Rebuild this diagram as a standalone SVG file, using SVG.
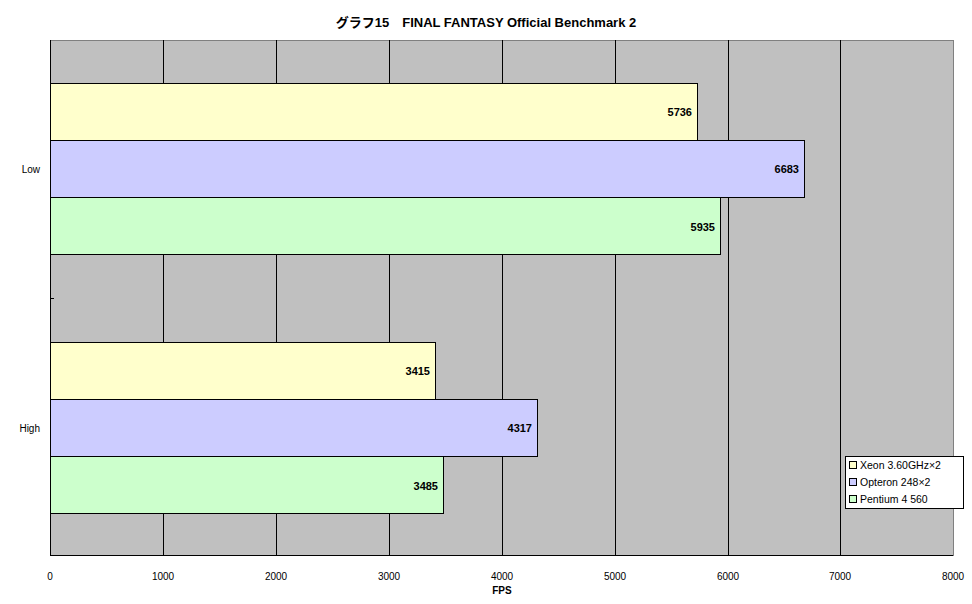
<svg xmlns="http://www.w3.org/2000/svg" width="972" height="604" viewBox="0 0 972 604">
<style>
text{font-family:"Liberation Sans","Noto Sans CJK JP",sans-serif;fill:#000}
.t{font-size:11px}
.v{font-size:11px;font-weight:bold;text-anchor:end}
.ax{font-size:10px;text-anchor:middle}
.g{stroke:#000;stroke-width:1}
.bar{stroke:#000;stroke-width:1}
.y{fill:#FFFFCC}.b{fill:#CCCCFF}.gr{fill:#CCFFCC}
</style>
<rect width="972" height="604" fill="#fff"/>
<text x="486" y="27" text-anchor="middle" style="font-size:13px;font-weight:bold">グラフ15　FINAL FANTASY Official Benchmark 2</text>
<rect x="50.5" y="40.5" width="903" height="515" fill="#C0C0C0" stroke="#808080"/>
<g id="grid" class="g">
<line x1="163.5" y1="40" x2="163.5" y2="556"/><line x1="276.5" y1="40" x2="276.5" y2="556"/>
<line x1="389.5" y1="40" x2="389.5" y2="556"/><line x1="502.5" y1="40" x2="502.5" y2="556"/>
<line x1="615.5" y1="40" x2="615.5" y2="556"/><line x1="728.5" y1="40" x2="728.5" y2="556"/>
<line x1="840.5" y1="40" x2="840.5" y2="556"/>
<line x1="50.5" y1="40" x2="50.5" y2="556"/><line x1="50" y1="555.5" x2="953" y2="555.5"/>
<line x1="50" y1="298.5" x2="54" y2="298.5"/>
</g>
<g id="bars">
<rect class="bar y" x="50.5" y="83.5" width="647" height="57"/>
<rect class="bar b" x="50.5" y="140.5" width="754" height="57"/>
<rect class="bar gr" x="50.5" y="197.5" width="670" height="57"/>
<rect class="bar y" x="50.5" y="342.5" width="385" height="57"/>
<rect class="bar b" x="50.5" y="399.5" width="487" height="57"/>
<rect class="bar gr" x="50.5" y="456.5" width="393" height="57"/>
</g>
<g id="labels">
<text class="v" x="692" y="116">5736</text>
<text class="v" x="799" y="173">6683</text>
<text class="v" x="715" y="231">5935</text>
<text class="v" x="430" y="375">3415</text>
<text class="v" x="532" y="432">4317</text>
<text class="v" x="438" y="490">3485</text>
<text class="t" x="40" y="173" text-anchor="end" style="font-size:10px">Low</text>
<text class="t" x="40" y="432" text-anchor="end" style="font-size:10px">High</text>
</g>
<g id="xaxis">
<text class="ax" x="50" y="580">0</text><text class="ax" x="163" y="580">1000</text>
<text class="ax" x="276" y="580">2000</text><text class="ax" x="389" y="580">3000</text>
<text class="ax" x="502" y="580">4000</text><text class="ax" x="615" y="580">5000</text>
<text class="ax" x="728" y="580">6000</text><text class="ax" x="840" y="580">7000</text>
<text class="ax" x="953" y="580">8000</text>
<text class="ax" x="502" y="594" style="font-weight:bold">FPS</text>
</g>
<g id="legend">
<rect x="845.5" y="456.5" width="118" height="52" fill="#fff" stroke="#000"/>
<rect class="bar y" x="849.5" y="461.5" width="7" height="7"/>
<rect class="bar b" x="849.5" y="478.5" width="7" height="7"/>
<rect class="bar gr" x="849.5" y="495.5" width="7" height="7"/>
<text class="t" x="860" y="469" style="font-size:10.5px">Xeon 3.60GHz×2</text>
<text class="t" x="860" y="486" style="font-size:10.5px">Opteron 248×2</text>
<text class="t" x="860" y="503" style="font-size:10.5px">Pentium 4 560</text>
</g>
</svg>
